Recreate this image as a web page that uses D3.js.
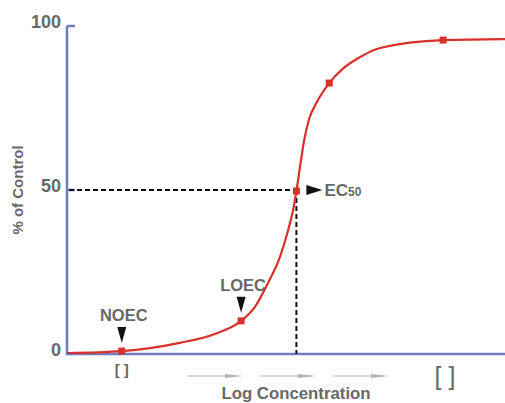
<!DOCTYPE html>
<html><head><meta charset="utf-8">
<script src="https://cdn.jsdelivr.net/npm/d3@7"></script>
<style>
html,body{margin:0;padding:0;background:#fff;}
text{font-family:"Liberation Sans",Arial,sans-serif;font-weight:bold;fill:#686868;}
</style></head><body>
<svg id="c" width="505" height="403"></svg>
<script>
// Data (x = log concentration, arbitrary units; y = % of control)
const curveX = [0, 1.0, 2.06, 2.70, 3.18, 3.43, 3.67, 3.89, 4.04, 4.13, 4.19, 4.26, 4.33, 4.42, 4.57, 4.79, 5.04, 5.30, 5.72, 6.87, 8.0];
const curveY = [0.3, 0.9, 3.4, 6.1, 10.1, 14.3, 21.6, 29.6, 37.8, 43.9, 49.7, 57.5, 65.0, 71.5, 77.0, 82.6, 87.0, 90.0, 93.3, 95.7, 96.0];
const markerX = [1.0, 3.18, 4.19, 4.79, 6.87];
const markerY = [0.9, 10.1, 49.7, 82.6, 95.7];
const yTicks = [0, 50, 100];
const ec50 = {x: 4.19, y: 50};
const noec = {x: 1.0, y: 0.9, label: "NOEC"};
const loec = {x: 3.18, y: 10.1, label: "LOEC"};

const svg = d3.select("#c");
const x = d3.scaleLinear().domain([0, 8]).range([67, 505]);
const y = d3.scaleLinear().domain([0, 100]).range([354, 26]);
const axisColor = "#6e7ec0", red = "#d8302a";

// axes
svg.append("line").attr("x1", x(0)).attr("x2", x(0)).attr("y1", y(100)).attr("y2", y(0) + 1)
  .attr("stroke", axisColor).attr("stroke-width", 2.5);
svg.append("line").attr("x1", x(0) - 1).attr("x2", x(8)).attr("y1", y(0)).attr("y2", y(0))
  .attr("stroke", axisColor).attr("stroke-width", 2.5);
yTicks.filter(d => d > 0).forEach(t => {
  svg.append("line").attr("x1", x(0)).attr("x2", x(0) + 8).attr("y1", y(t)).attr("y2", y(t))
    .attr("stroke", axisColor).attr("stroke-width", 2.5);
});
svg.selectAll(".yt").data(yTicks).enter().append("text")
  .attr("x", 61).attr("y", d => y(d) - 3).attr("text-anchor", "end").attr("dominant-baseline", "middle")
  .attr("font-size", 18).text(d => d);

// axis titles
svg.append("text").attr("transform", "translate(23,190) rotate(-90)").attr("text-anchor", "middle")
  .attr("font-size", 15).text("% of Control");
svg.append("text").attr("x", 296).attr("y", 399).attr("text-anchor", "middle")
  .attr("font-size", 16.8).text("Log Concentration");

// dashed EC50 guides
svg.append("line").attr("x1", x(0) + 2).attr("x2", x(ec50.x)).attr("y1", y(ec50.y)).attr("y2", y(ec50.y))
  .attr("stroke", "#111").attr("stroke-width", 2).attr("stroke-dasharray", "5,3");
svg.append("line").attr("x1", x(ec50.x)).attr("x2", x(ec50.x)).attr("y1", y(ec50.y)).attr("y2", y(0))
  .attr("stroke", "#111").attr("stroke-width", 2).attr("stroke-dasharray", "5,3");

// curve
const pts = curveX.map((d, i) => [d, curveY[i]]);
svg.append("path").datum(pts)
  .attr("d", d3.line().x(d => x(d[0])).y(d => y(d[1])).curve(d3.curveMonotoneX))
  .attr("fill", "none").attr("stroke", red).attr("stroke-width", 2.2);
svg.selectAll(".m").data(markerX.map((d, i) => [d, markerY[i]])).enter().append("rect")
  .attr("x", d => x(d[0]) - 3.5).attr("y", d => y(d[1]) - 3.5).attr("width", 7).attr("height", 7)
  .attr("fill", red);

// NOEC / LOEC labels with down triangles
[noec, loec].forEach(p => {
  const px = x(p.x), py = y(p.y);
  svg.append("path").attr("d", `M${px - 4.5},${py - 24} L${px + 4.5},${py - 24} L${px},${py - 8} Z`).attr("fill", "#111");
  svg.append("text").attr("x", px + 2).attr("y", py - 30).attr("text-anchor", "middle")
    .attr("font-size", 16.5).text(p.label);
});

// EC50 label
const ex = x(ec50.x), ey = y(ec50.y);
svg.append("path").attr("d", `M${ex + 10},${ey - 5} L${ex + 26},${ey} L${ex + 10},${ey + 5} Z`).attr("fill", "#111");
const t = svg.append("text").attr("x", ex + 28).attr("y", ey + 6).attr("font-size", 17);
t.append("tspan").text("EC");
t.append("tspan").attr("font-size", 12).text("50");

// concentration brackets
svg.append("text").attr("x", x(1.0)).attr("y", 375).attr("text-anchor", "middle").attr("font-size", 15).text("[ ]");
svg.append("text").attr("x", 445).attr("y", 385).attr("text-anchor", "middle").attr("font-size", 25)
  .style("font-weight", "normal").text("[ ]");

// grey arrows
const arrowStarts = [187, 260, 333];
arrowStarts.forEach(a => {
  svg.append("line").attr("x1", a).attr("x2", a + 50).attr("y1", 376).attr("y2", 376)
    .attr("stroke", "#b4b4b4").attr("stroke-width", 1.2);
  svg.append("path").attr("d", `M${a + 38},${374} L${a + 56},${376} L${a + 38},${378} Z`).attr("fill", "#b4b4b4");
});
</script>
</body></html>
